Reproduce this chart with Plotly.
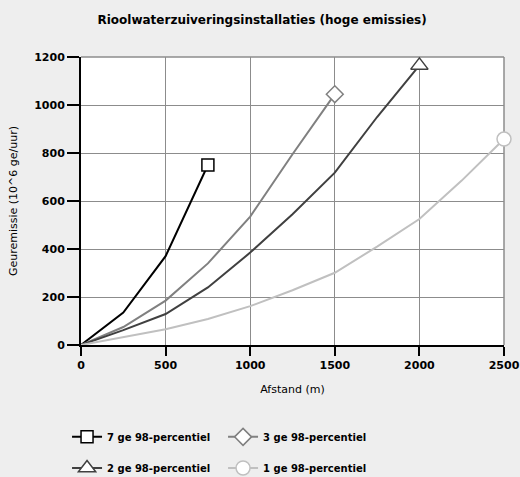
import plotly.graph_objects as go

afstand = [0, 250, 500, 750, 1000, 1250, 1500, 1750, 2000, 2250, 2500]

series_names = ["7 ge 98-percentiel", "3 ge 98-percentiel", "2 ge 98-percentiel", "1 ge 98-percentiel"]
s7 = [0, 135, 370, 750]
s3 = [0, 75, 185, 340, 535, 795, 1045]
s2 = [0, 62, 129, 240, 385, 545, 718, 950, 1165]
s1 = [0, 33, 66, 108, 162, 228, 301, 410, 525, 685, 858]

colors = ["#000000", "#808080", "#404040", "#c0c0c0"]
symbols = ["square", "diamond", "triangle-up", "circle"]
msizes = [12, 13, 15, 14]
legends = ["legend", "legend", "legend2", "legend2"]

y_ticks = [0, 200, 400, 600, 800, 1000, 1200]
x_ticks = [0, 500, 1000, 1500, 2000, 2500]

fig = go.Figure()
for name, ys, col, sym, ms, lg in zip(series_names, [s7, s3, s2, s1], colors, symbols, msizes, legends):
    xs = afstand[:len(ys)]
    fig.add_trace(go.Scatter(x=xs, y=ys, mode="lines", line=dict(color=col, width=2),
                             showlegend=False, hoverinfo="skip", cliponaxis=False))
    fig.add_trace(go.Scatter(x=[xs[-1]], y=[ys[-1]], mode="lines+markers", name=name,
                             line=dict(color=col, width=2),
                             marker=dict(symbol=sym, size=ms, color="white",
                                         line=dict(color=col, width=1.5)),
                             legend=lg, cliponaxis=False))

fam = "DejaVu Sans"
fig.update_layout(
    width=520, height=477,
    paper_bgcolor="#eeeeee", plot_bgcolor="white",
    margin=dict(l=81, r=16, t=57, b=132, autoexpand=False),
    title=dict(text="<b>Rioolwaterzuiveringsinstallaties (hoge emissies)</b>",
               x=0.504, xanchor="center", y=0.958, yanchor="middle",
               font=dict(family=fam, size=12, color="#000")),
    xaxis=dict(range=[0, 2500], tickvals=x_ticks, ticks="outside", ticklen=9, tickwidth=2,
               tickcolor="#000", showline=True, linecolor="#000", linewidth=2,
               showgrid=True, gridcolor="#8c8c8c", gridwidth=1, zeroline=False,
               automargin=False,
               tickfont=dict(family=fam, size=11, color="#000", weight="bold"),
               title=dict(text="Afstand (m)", font=dict(family=fam, size=11, color="#000"),
                          standoff=14)),
    yaxis=dict(range=[0, 1200], tickvals=y_ticks, ticks="outside", ticklen=12, tickwidth=2,
               tickcolor="#000", showline=True, linecolor="#000", linewidth=2,
               showgrid=True, gridcolor="#8c8c8c", gridwidth=1, zeroline=False,
               automargin=False,
               tickfont=dict(family=fam, size=11, color="#000", weight="bold"),
               title=dict(text="Geuremissie (10^6 ge/uur)",
                          font=dict(family=fam, size=11, color="#000"), standoff=14)),
    legend=dict(orientation="h", x=-0.033, xanchor="left", y=-0.319, yanchor="middle",
                entrywidth=111, entrywidthmode="pixels", bgcolor="rgba(0,0,0,0)",
                font=dict(family=fam, size=10, color="#000", weight="bold")),
    legend2=dict(orientation="h", x=-0.033, xanchor="left", y=-0.427, yanchor="middle",
                 entrywidth=111, entrywidthmode="pixels", bgcolor="rgba(0,0,0,0)",
                 font=dict(family=fam, size=10, color="#000", weight="bold")),
    shapes=[
        dict(type="line", xref="paper", yref="paper", x0=0, x1=1, y0=1, y1=1,
             line=dict(color="#8c8c8c", width=1.5), layer="below"),
        dict(type="line", xref="paper", yref="paper", x0=1, x1=1, y0=0, y1=1,
             line=dict(color="#8c8c8c", width=1.5), layer="below"),
    ],
)

fig.write_html("out.html", config={"displayModeBar": False},
               post_script="document.body.style.margin='0px';document.body.style.overflow='hidden';")
